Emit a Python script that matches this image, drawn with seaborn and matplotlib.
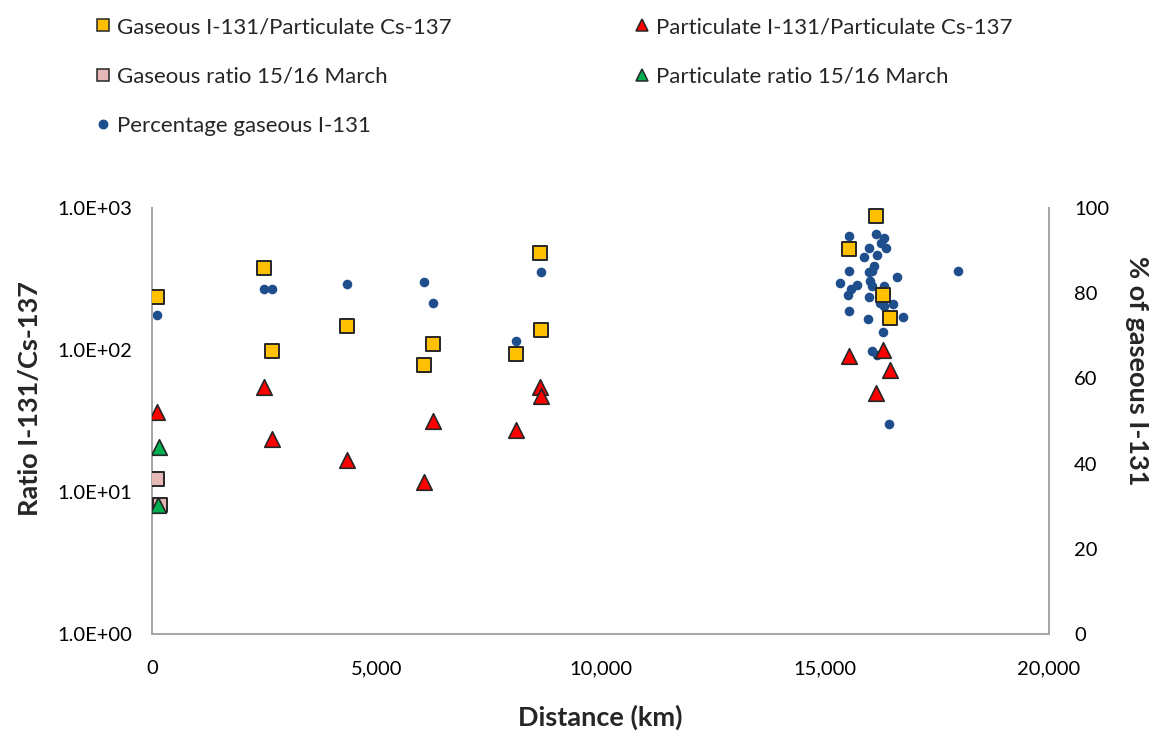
import matplotlib
matplotlib.use("Agg")
import matplotlib.pyplot as plt
from matplotlib.ticker import FuncFormatter, FixedLocator, NullLocator
from matplotlib.lines import Line2D
import seaborn as sns

# --- data -------------------------------------------------------------
gas_dist = [110, 2500, 2670, 4350, 6260, 6060, 8650, 8670, 8120,
            16140, 15530, 16300, 16450]
gas_ratio = [236, 375, 98, 148, 111, 79, 482, 139, 94,
             873, 514, 244, 168]

part_dist = [120, 2500, 2675, 4350, 6060, 6260, 8120, 8650, 8670,
             15530, 16300, 16450, 16140]
part_ratio = [36.5, 55, 23.6, 16.8, 11.7, 31.7, 27.4, 54.8, 47.5,
              91, 100, 72.5, 49.7]

gas_march_dist = [120, 180]
gas_march_ratio = [12.4, 8.1]

part_march_dist = [160, 130]
part_march_ratio = [20.6, 8.1]

pct_dist = [120, 2500, 2675, 4350, 6060, 6260, 8650, 8680, 8120,
            15550, 16150, 16310, 16250, 16370, 15990, 16170, 15880,
            15550, 16100, 16050, 15990, 16600, 15340, 15710, 15590,
            16010, 16060, 16310, 15525, 15990, 16230, 16310, 16530,
            15540, 15960, 16455, 16740, 16290, 16050, 16160, 16430,
            17980]
pct_gas = [74.8, 80.9, 81.1, 82.2, 82.6, 77.8, 89.2, 84.9, 68.8,
           93.4, 93.8, 92.9, 91.9, 90.7, 90.5, 88.9, 88.4,
           85.3, 86.3, 85.3, 84.9, 83.9, 82.4, 82.0, 80.9,
           82.9, 81.8, 81.8, 79.6, 79.1, 77.8, 77.0, 77.4,
           75.8, 74.0, 73.6, 74.3, 70.8, 66.4, 65.6, 49.3,
           85.2]

x_ticks = [0, 5000, 10000, 15000, 20000]
y_ticks = [1, 10, 100, 1000]
y2_ticks = [0, 20, 40, 60, 80, 100]

labels = ["Gaseous I-131/Particulate Cs-137",
          "Particulate I-131/Particulate Cs-137",
          "Gaseous ratio 15/16 March",
          "Particulate ratio 15/16 March",
          "Percentage gaseous I-131"]

# --- styling ----------------------------------------------------------
sns.set_theme(style="white")
plt.rcParams["font.family"] = ["Lato", "DejaVu Sans"]

c_gas = "#FFC000"
c_part = "#FF0000"
c_gas_m = "#E6B9B8"
c_part_m = "#00B050"
c_pct = "#1F4E8C"
edge = "#262626"
spine_c = "#A6A6A6"

W, H = 1153, 735
fig = plt.figure(figsize=(W / 100, H / 100), dpi=100)
ax = fig.add_axes([152 / W, 1 - 634 / H, (1049 - 152) / W, (634 - 208) / H])
ax2 = ax.twinx()

sq = dict(marker="s", s=115, edgecolor=edge, linewidth=1.4, zorder=3)
tri = dict(marker="^", s=125, edgecolor=edge, linewidth=1.2, zorder=3)

sns.scatterplot(x=gas_dist, y=gas_ratio, color=c_gas, ax=ax, **sq)
sns.scatterplot(x=part_dist, y=part_ratio, color=c_part, ax=ax, **tri)
sns.scatterplot(x=gas_march_dist, y=gas_march_ratio, color=c_gas_m, ax=ax, **sq)
sns.scatterplot(x=part_march_dist, y=part_march_ratio, color=c_part_m, ax=ax, **tri)
sns.scatterplot(x=pct_dist, y=pct_gas, color=c_pct, ax=ax2, marker="o",
                s=48, edgecolor=c_pct, linewidth=0, zorder=3)

ax.set_yscale("log")
ax.set_xlim(0, 20000)
ax.set_ylim(1, 1000)
ax2.set_ylim(0, 100)

ax.xaxis.set_major_locator(FixedLocator(x_ticks))
ax.xaxis.set_major_formatter(FuncFormatter(lambda v, p: f"{v:,.0f}"))
ax.yaxis.set_major_locator(FixedLocator(y_ticks))
ax.yaxis.set_minor_locator(NullLocator())
ax.yaxis.set_major_formatter(FuncFormatter(lambda v, p: f"{v:.1E}"))
ax2.yaxis.set_major_locator(FixedLocator(y2_ticks))

tick_font = 14.5
ax.tick_params(axis="both", length=0, labelsize=tick_font, colors="#000000")
ax.tick_params(axis="x", pad=19)
ax.tick_params(axis="y", pad=14)
ax2.tick_params(axis="y", length=0, labelsize=tick_font, pad=18, colors="#000000")

for a in (ax, ax2):
    a.spines["top"].set_visible(False)
    for s in ("left", "right", "bottom"):
        a.spines[s].set_color(spine_c)
        a.spines[s].set_linewidth(1.3)
    a.grid(False)
ax.set_zorder(ax2.get_zorder() + 1)
ax.patch.set_visible(False)

# axis titles
ax.set_xlabel("Distance (km)", fontsize=19.5, fontweight="bold")
ax.xaxis.label.set_verticalalignment("center")
ax.xaxis.set_label_coords(0.5, (634 - 717) / 426)

ax.set_ylabel("Ratio I-131/Cs-137", fontsize=19.5, fontweight="bold")
ax.yaxis.label.set_verticalalignment("center")
ax.yaxis.set_label_coords((30 - 152) / 897, (634 - 399) / 426)

ax2.set_ylabel("% of gaseous I-131", fontsize=19.5, fontweight="bold", rotation=270)
ax2.yaxis.label.set_verticalalignment("center")
ax2.yaxis.set_label_coords((1137 - 152) / 897, (634 - 371) / 426)

# --- legend -----------------------------------------------------------
def handle(marker, color, size, ec=edge):
    return Line2D([], [], linestyle="none", marker=marker, markersize=size,
                  markerfacecolor=color, markeredgecolor=ec, markeredgewidth=1.1)

h_gas = handle("s", c_gas, 9)
h_part = handle("^", c_part, 9)
h_gas_m = handle("s", c_gas_m, 9)
h_part_m = handle("^", c_part_m, 9)
h_pct = handle("o", c_pct, 6, ec=c_pct)

leg_kw = dict(frameon=False, fontsize=16, handlelength=0.6, handletextpad=0.35,
              labelspacing=1.33, borderaxespad=0, borderpad=0)
fig.legend([h_gas, h_gas_m, h_pct], [labels[0], labels[2], labels[4]],
           loc="upper left", bbox_to_anchor=(96 / W, 1 - 17 / H), **leg_kw)
fig.legend([h_part, h_part_m], [labels[1], labels[3]],
           loc="upper left", bbox_to_anchor=(635 / W, 1 - 17 / H), **leg_kw)

fig.savefig("out.png", dpi=100)
